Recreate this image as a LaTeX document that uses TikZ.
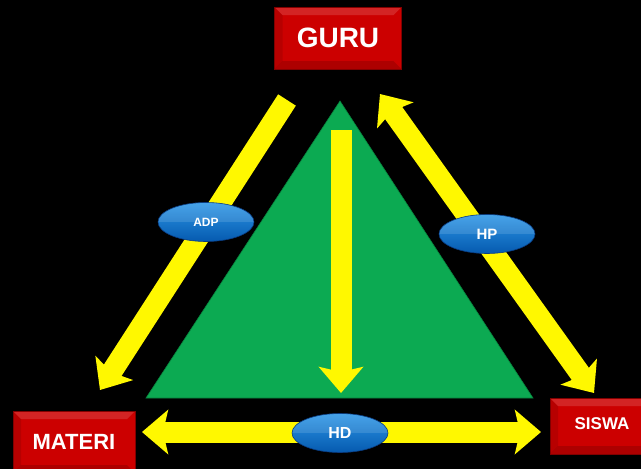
\documentclass[tikz,border=0pt]{standalone}
\usepackage{fontspec}
\setmainfont{Liberation Sans}
\usetikzlibrary{arrows.meta,shapes.geometric}
\definecolor{boxred}{RGB}{204,0,0}
\definecolor{boxdark}{RGB}{130,0,0}
\definecolor{pyrgreen}{RGB}{12,170,82}
\definecolor{pyredge}{RGB}{8,130,60}
\definecolor{arrowyellow}{RGB}{255,248,0}
\definecolor{elltop}{RGB}{45,150,230}
\definecolor{ellbot}{RGB}{5,90,175}
\definecolor{elledge}{RGB}{10,60,130}
\begin{document}
\begin{tikzpicture}[x=1pt,y=-1pt,
  redbox/.style={rectangle, fill=boxred, draw=boxdark, line width=0.8pt,
    text=white, font=\bfseries, inner sep=0pt,
    path picture={
      \fill[white,opacity=0.14] (path picture bounding box.north west) -- (path picture bounding box.north east)
        -- ([shift={(-8pt,-8pt)}]path picture bounding box.north east) -- ([shift={(8pt,-8pt)}]path picture bounding box.north west) -- cycle;
      \fill[black,opacity=0.15] (path picture bounding box.south west) -- (path picture bounding box.south east)
        -- ([shift={(-8pt,8pt)}]path picture bounding box.south east) -- ([shift={(8pt,8pt)}]path picture bounding box.south west) -- cycle;
      \fill[black,opacity=0.10] (path picture bounding box.north west) -- (path picture bounding box.south west)
        -- ([shift={(8pt,8pt)}]path picture bounding box.south west) -- ([shift={(8pt,-8pt)}]path picture bounding box.north west) -- cycle;
    }},
  ellbox/.style={ellipse, minimum width=96pt, minimum height=39pt, inner sep=0pt,
    top color=elltop, bottom color=ellbot, draw=elledge, line width=0.6pt,
    text=white, font=\bfseries,
    path picture={\fill[white,opacity=0.12] (path picture bounding box.west) rectangle (path picture bounding box.north east);}},
  yarrow/.style={draw=arrowyellow, line width=21pt},
  ytip/.tip={Stealth[width=44pt,length=26pt,inset=5pt]}
]
\useasboundingbox[fill=black] (0,0) rectangle (641,469);

% pyramid
\coordinate (apex) at (340,101);
\coordinate (bl) at (146,398);
\coordinate (br) at (533,398);
\fill[pyrgreen] (apex) -- (bl) -- (br) -- cycle;
\draw[pyredge, line width=0.6pt] (apex) -- (bl) -- (br) -- cycle;

% arrow end points
\coordinate (adpT) at (287,100);
\coordinate (adpH) at (100,390);
\coordinate (hpA) at (380,94);
\coordinate (hpB) at (594,393);
\coordinate (vT) at (341,130);
\coordinate (vH) at (341,393);
\coordinate (hdA) at (142,432);
\coordinate (hdB) at (541,432);

\draw[yarrow,-ytip] (adpT) -- (adpH);
\draw[yarrow,ytip-ytip] (hpA) -- (hpB);
\draw[yarrow,-ytip] (vT) -- (vH);
\draw[yarrow,ytip-ytip] (hdA) -- (hdB);

% labels on arrows
\node[ellbox, font=\bfseries\fontsize{12}{14}\selectfont] (adp) at (206,222) {ADP};
\node[ellbox, font=\bfseries\fontsize{15}{18}\selectfont] (hp) at (487,234) {HP};
\node[ellbox, font=\bfseries\fontsize{16}{19}\selectfont] (hd) at (340,433) {HD};

% boxes
\node[redbox, minimum width=127pt, minimum height=62pt, font=\bfseries\fontsize{28}{32}\selectfont] (guru) at (338,38) {GURU};
\node[redbox, minimum width=122pt, minimum height=62pt, font=\bfseries\fontsize{22}{26}\selectfont] (materi) at (74,442) {MATERI};
\node[redbox, minimum width=104pt, minimum height=56pt, font=\bfseries\fontsize{17}{20}\selectfont, text depth=0pt] (siswa) at (602,426) {\raisebox{4pt}{SISWA}};
\end{tikzpicture}
\end{document}
